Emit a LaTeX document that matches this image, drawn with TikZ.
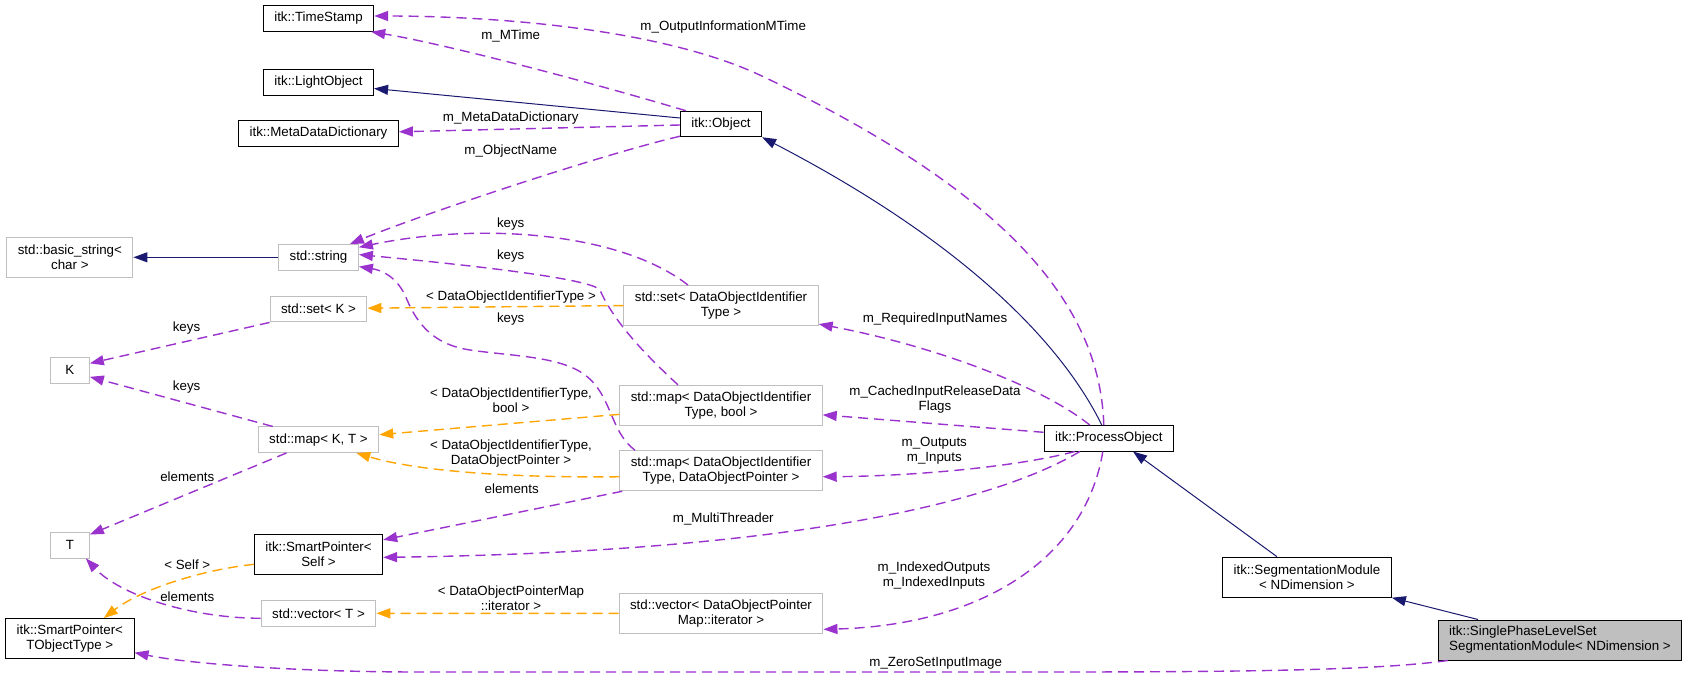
\documentclass[tikz,border=0pt]{standalone}
\usepackage{fontspec}
\setmainfont{Liberation Sans}
\usetikzlibrary{arrows.meta,positioning}
\definecolor{edgenavy}{HTML}{191970}
\definecolor{usage}{HTML}{9A32CD}
\definecolor{tmpl}{HTML}{FFA500}
\definecolor{extline}{HTML}{BFBFBF}
\definecolor{current}{HTML}{BFBFBF}
\newcommand{\dgfont}{\fontsize{13.33}{15}\selectfont}
\tikzset{
  cls/.style={
    draw=black, fill=white, line width=1pt,
    inner xsep=11pt, inner ysep=2pt, minimum height=25.5pt,
    align=center, font=\dgfont
  },
  ext/.style={cls, draw=extline},
  tall/.style={minimum height=40pt},
  lbl/.style={inner sep=0pt, align=center, font=\dgfont},
  inherit/.style={-{Triangle[length=14pt, width=10pt]}, line width=1pt, draw=edgenavy},
  uses/.style={-{Triangle[length=14pt, width=10pt]}, line width=1.4pt, draw=usage, dash pattern=on 10pt off 6pt},
  tmplarr/.style={uses, draw=tmpl}
}

\begin{document}
\begin{tikzpicture}[x=1pt, y=-1pt]
        \useasboundingbox (0,0) rectangle (1685,677);
        \node[cls] (stamp) at (318.5,18.5) {itk::TimeStamp};
        \node[cls, below=37.5pt of stamp] (light) {itk::LightObject};
        \node[cls, below=24.3pt of light] (meta) {itk::MetaDataDictionary};
        \node[ext, below=97.5pt of meta] (str) {std::string};
        \node[ext, below=25.4pt of str] (setk) {std::set< K >};
        \node[ext, below=104pt of setk] (mapkt) {std::map< K, T >};
        \node[cls, tall, below=80.9pt of mapkt] (spself) {itk::SmartPointer<\\Self >};
        \node[ext, below=25.2pt of spself] (vect) {std::vector< T >};
        \node[ext, tall, left=144.7pt of str] (bstr) {std::basic\_string<\\char >};
        \node[ext, minimum width=39pt, below=79.3pt of bstr] (keyk) {K};
        \node[ext, minimum width=39pt, below=148.4pt of keyk] (elemt) {T};
        \node[cls, tall, below=59.6pt of elemt] (sptobj) {itk::SmartPointer<\\TObjectType >};
        \node[cls] (obj) at (721,124) {itk::Object};
        \node[ext, tall, below=147.8pt of obj] (setdoi) {std::set< DataObjectIdentifier\\Type >};
        \node[ext, tall, below=58.8pt of setdoi] (mapbool) {std::map< DataObjectIdentifier\\Type, bool >};
        \node[ext, tall, below=24.4pt of mapbool] (mapdop) {std::map< DataObjectIdentifier\\Type, DataObjectPointer >};
        \node[ext, tall, below=101.6pt of mapdop] (vecdop) {std::vector< DataObjectPointer\\Map::iterator >};
        \node[cls] (proc) at (1108.8,438.3) {itk::ProcessObject};
        \node[cls, tall] (segmod) at (1307,577.2) {itk::SegmentationModule\\< NDimension >};
        \node[cls, tall, fill=current, align=left] (single) at (1560,640) {itk::SinglePhaseLevelSet\\SegmentationModule< NDimension >};

        \node[lbl] (lmtime) at (510.7,35.7) {m\_MTime};
        \node[lbl] (loutinfo) at (723.2,26.7) {m\_OutputInformationMTime};
        \node[lbl] (lmeta) at (510.7,118.3) {m\_MetaDataDictionary};
        \node[lbl] (lname) at (510.7,150.7) {m\_ObjectName};
        \node[lbl] (lkeysa) at (510.7,224.3) {keys};
        \node[lbl] (lkeysb) at (510.7,255.7) {keys};
        \node[lbl] (lsetdoi) at (511,296.7) {< DataObjectIdentifierType >};
        \node[lbl] (lkeysc) at (510.7,319.3) {keys};
        \node[lbl] (lkeysd) at (186.5,327.7) {keys};
        \node[lbl] (lkeyse) at (186.7,386.7) {keys};
        \node[lbl] (lmapbool) at (511,400) {< DataObjectIdentifierType,\\bool >};
        \node[lbl] (lmapdop) at (511,453.7) {< DataObjectIdentifierType,\\DataObjectPointer >};
        \node[lbl] (lelema) at (187.3,476.7) {elements};
        \node[lbl] (lelemb) at (511.7,488.3) {elements};
        \node[lbl] (lthread) at (723.3,519.3) {m\_MultiThreader};
        \node[lbl] (lself) at (187.3,565) {< Self >};
        \node[lbl] (lelemc) at (187.3,596.7) {elements};
        \node[lbl] (liter) at (511,597.8) {< DataObjectPointerMap\\::iterator >};
        \node[lbl] (lreq) at (935,319.3) {m\_RequiredInputNames};
        \node[lbl] (lcached) at (935,400) {m\_CachedInputReleaseData\\Flags};
        \node[lbl] (lio) at (934.3,450.8) {m\_Outputs\\m\_Inputs};
        \node[lbl] (lidx) at (934,576) {m\_IndexedOutputs\\m\_IndexedInputs};
        \node[lbl] (lzero) at (935.7,663.3) {m\_ZeroSetInputImage};

        \draw[uses] ([xshift=6pt]obj.north west) .. controls (600,85) and (450,45) .. ([xshift=-3pt]stamp.south east);
        \draw[uses] ([xshift=-5pt]proc.north) .. controls (1100,300) and (1000,190) .. (764,77) .. controls (658,26) and (480,16) .. ([yshift=2.5pt]stamp.east);
        \draw[inherit] ([yshift=6pt]obj.west) -- ([yshift=-6pt]light.east);
        \draw[uses] ([yshift=-1pt]obj.west) -- ([yshift=1.5pt]meta.east);
        \draw[uses] ([yshift=1pt]obj.south west) .. controls (600,155) and (420,215) .. ([xshift=-9pt]str.north east);
        \draw[inherit] (str) -- (bstr);
        \draw[uses] ([xshift=-33pt]setdoi.north) .. controls (620,232) and (480,222) .. ([yshift=10pt]str.east);
        \draw[uses] ([xshift=-43pt]mapbool.north) .. controls (640,350) and (612,318) .. (600,290) .. controls (592,280) and (500,268) .. ([yshift=2.7pt]str.east);
        \draw[uses] ([xshift=-86pt]mapdop.north) .. controls (610,432) and (612,395) .. (585,375) .. controls (560,356) and (510,356) .. (470,350) .. controls (430,344) and (415,320) .. (405,295) .. controls (395,275) and (380,270) .. ([yshift=4pt]str.south east);
        \draw[tmplarr] (setdoi.west) -- ([yshift=1pt]setk.east);
        \draw[uses] (setk.south west) -- ([yshift=7pt]keyk.east);
        \draw[uses] ([xshift=15pt]mapkt.north west) -- ([yshift=-6.5pt]keyk.east);
        \draw[tmplarr] ([yshift=-9pt]mapbool.west) -- ([yshift=5pt]mapkt.east);
        \draw[tmplarr] ([yshift=-6pt]mapdop.west) .. controls (520,478) and (420,472) .. ([xshift=-23pt]mapkt.south east);
        \draw[uses] ([xshift=-32pt]mapkt.south) -- ([yshift=-2.5pt]elemt.north east);
        \draw[uses] ([yshift=-5pt]vect.west) .. controls (190,618) and (120,595) .. ([xshift=-4pt]elemt.south east);
        \draw[uses] ([xshift=3pt]mapdop.south west) -- ([yshift=14.5pt]spself.east);
        \draw[uses] ([xshift=-29pt]proc.south) .. controls (990,505) and (780,552) .. ([yshift=-3pt]spself.east);
        \draw[tmplarr] ([yshift=-10pt]spself.west) .. controls (200,570) and (140,590) .. ([xshift=34pt]sptobj.north);
        \draw[tmplarr] (vecdop) -- (vect);
        \draw[uses] ([xshift=-19pt]proc.north) .. controls (1040,385) and (930,345) .. ([yshift=2pt]setdoi.south east);
        \draw[uses] ([yshift=6pt]proc.west) -- ([yshift=-9.5pt]mapbool.east);
        \draw[uses] ([xshift=-34pt]proc.south) .. controls (1020,466) and (920,476) .. ([yshift=-6pt]mapdop.east);
        \draw[uses] ([xshift=-6pt]proc.south) .. controls (1085,560) and (980,625) .. ([yshift=-16pt]vecdop.east);
        \draw[inherit] ([xshift=-7pt]proc.north) .. controls (1060,340) and (960,240) .. (obj.south east);
        \draw[inherit] ([xshift=-30pt]segmod.north) -- ([xshift=-41pt]proc.south east);
        \draw[inherit] ([xshift=-82pt]single.north) -- (segmod.south east);
        \draw[uses] ([xshift=10pt]single.south west) .. controls (1380,670) and (1250,672) .. (1050,672) -- (420,672) .. controls (300,672) and (190,664) .. ([yshift=-14pt]sptobj.east);
      \end{tikzpicture}
\end{document}
